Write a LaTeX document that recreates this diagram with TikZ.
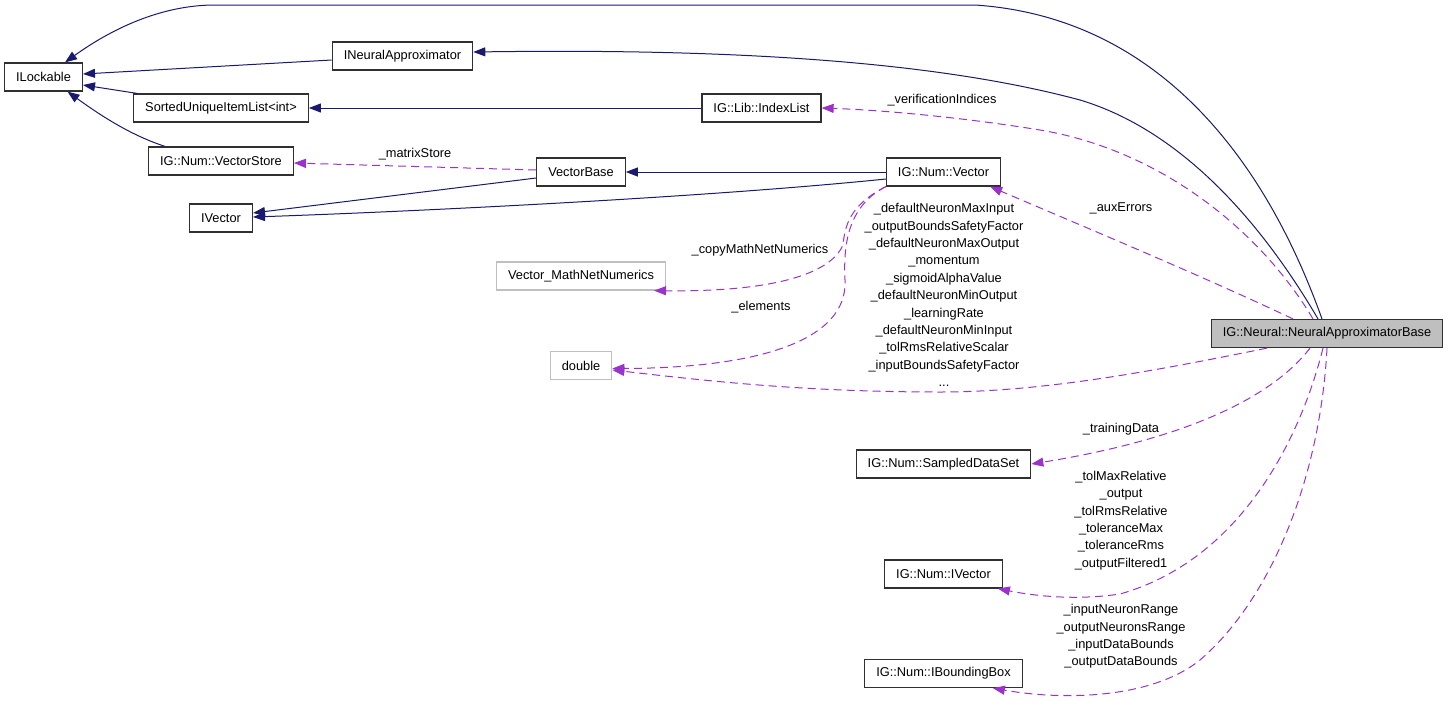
\documentclass[tikz,border=0pt]{standalone}
\usepackage{fontspec}
\setmainfont{Liberation Sans}
\usetikzlibrary{positioning, arrows.meta}
\definecolor{inhcol}{RGB}{25,25,112}
\definecolor{usecol}{RGB}{154,50,205}
\definecolor{boxgray}{RGB}{191,191,191}
\definecolor{boxline}{RGB}{48,48,48}

\begin{document}
\begin{tikzpicture}[
		x=1pt, y=-1pt, node distance=50pt, on grid,
		font=\fontsize{12.8}{17.4}\selectfont,
		cls/.style={draw=boxline, line width=1.2pt, minimum height=28pt, inner xsep=11.5pt, inner ysep=0pt},
		ext/.style={cls, draw=boxgray},
		inh/.style={draw=inhcol, line width=1pt, -{Triangle[length=12pt, width=9pt]}},
		use/.style={draw=usecol, line width=1pt, dash pattern=on 8pt off 5pt, -{Triangle[length=12pt, width=9pt]}},
		lbl/.style={align=center, inner sep=0pt}
		]
		\useasboundingbox (0,0) rectangle (1448,705);
		% classes
		\node[cls] (lockable) at (43.5,77) {ILockable};
		\node[cls] (neuralapprox) [above right=21pt and 359pt of lockable] {INeuralApproximator};
		\node[cls] (sorted) [below right=31pt and 177.5pt of lockable] {SortedUniqueItemList<int>};
		\node[cls] (vecstore) [below=53pt of sorted] {IG::Num::VectorStore};
		\node[cls] (ivector) [below=57pt of vecstore] {IVector};
		\node[cls] (vecbase) [above right=46pt and 360pt of ivector] {VectorBase};
		\node[ext] (mathnet) [below=104pt of vecbase] {Vector\_MathNetNumerics};
		\node[ext] (double) [below=89.5pt of mathnet] {double};
		\node[cls] (indexlist) [right=540.5pt of sorted] {IG::Lib::IndexList};
		\node[cls] (numvector) [right=362.5pt of vecbase] {IG::Num::Vector};
		\node[cls] (sampled) [below=292pt of numvector] {IG::Num::SampledDataSet};
		\node[cls] (numivector) [below=110pt of sampled] {IG::Num::IVector};
		\node[cls] (bbox) [below=99.5pt of numivector] {IG::Num::IBoundingBox};
		\node[cls, fill=boxgray] (nab) [below right=161.5pt and 383.5pt of numvector] {IG::Neural::NeuralApproximatorBase};

		% inheritance
		\draw[inh] ([xshift=-5pt]nab.north) .. controls (1290,230) and (1200,20) .. (975,5)
			-- (215,5) .. controls (160,5) and (110,30) .. ([xshift=21.5pt]lockable.north);
		\draw[inh] ([xshift=-9pt]nab.north) .. controls (1260,220) and (1180,130) .. (1080,100)
			.. controls (950,65) and (760,48) .. ([yshift=4pt]neuralapprox.east);
		\draw[inh] ([yshift=-4pt]neuralapprox.west) -- ([yshift=3pt]lockable.east);
		\draw[inh] ([xshift=4pt]sorted.north west) -- ([yshift=-8pt]lockable.east);
		\draw[inh] ([xshift=17pt]vecstore.north west) .. controls (130,135) and (100,115) .. ([xshift=24pt]lockable.south);
		\draw[inh] (indexlist) -- (sorted);
		\draw[inh] (numvector) -- (vecbase);
		\draw[inh] ([yshift=-6pt]vecbase.west) -- ([yshift=5pt]ivector.east);
		\draw[inh] ([yshift=-7pt]numvector.west) .. controls (700,198) and (400,212) .. ([yshift=1pt]ivector.east);

		% members
		\draw[use] ([yshift=2pt]vecbase.west) -- node[lbl, above=6pt] {\_matrixStore} ([yshift=-2pt]vecstore.east);
		\draw[use] ([xshift=-14pt]nab.north) .. controls (1260,230) and (1160,150) .. (1040,130)
			.. controls (960,117) and (880,110) .. (indexlist.east);
		\node[lbl] (lblverif) at (942,100) {\_verificationIndices};
		\draw[use] ([xshift=-34pt]nab.north) .. controls (1200,275) and (1080,225) .. ([xshift=-11pt]numvector.south east);
		\node[lbl] (lblaux) at (1121,208) {\_auxErrors};
		\draw[use] (numvector.south west) .. controls (850,205) and (845,225) .. (843,245)
			.. controls (830,275) and (770,292) .. ([xshift=-12pt]mathnet.south east);
		\node[lbl] (lblcopy) at (760,250) {\_copyMathNetNumerics};
		\draw[use] (numvector.south west) .. controls (850,205) and (843,240) .. (845,280)
			.. controls (848,340) and (760,368) .. ([yshift=-3pt]double.east);
		\node[lbl] (lblelem) at (761,307) {\_elements};
		\draw[use] ([xshift=-60pt]nab.south) .. controls (1150,372) and (1040,392) .. (940,392)
			.. controls (800,392) and (700,380) .. ([yshift=-4.5pt]double.east);
		\node[lbl] (lbldouble) at (944,295) {\_defaultNeuronMaxInput\\\_outputBoundsSafetyFactor\\\_defaultNeuronMaxOutput\\\_momentum\\\_sigmoidAlphaValue\\\_defaultNeuronMinOutput\\\_learningRate\\\_defaultNeuronMinInput\\\_tolRmsRelativeScalar\\\_inputBoundsSafetyFactor\\...};
		\draw[use] ([xshift=-17pt]nab.south) .. controls (1270,400) and (1180,440) .. (sampled.east);
		\node[lbl] (lbltrain) at (1121,429) {\_trainingData};
		\draw[use] ([xshift=-4pt]nab.south) .. controls (1300,440) and (1240,560) .. (1120,594)
			.. controls (1080,600) and (1040,597) .. ([xshift=-5pt]numivector.south east);
		\node[lbl] (lbltol) at (1121,520.5) {\_tolMaxRelative\\\_output\\\_tolRmsRelative\\\_toleranceMax\\\_toleranceRms\\\_outputFiltered1};
		\draw[use] (nab.south) .. controls (1320,480) and (1270,600) .. (1200,660)
			.. controls (1150,700) and (1060,700) .. ([xshift=-30pt]bbox.south east);
		\node[lbl] (lblrange) at (1121,636.5) {\_inputNeuronRange\\\_outputNeuronsRange\\\_inputDataBounds\\\_outputDataBounds};
\end{tikzpicture}
\end{document}
